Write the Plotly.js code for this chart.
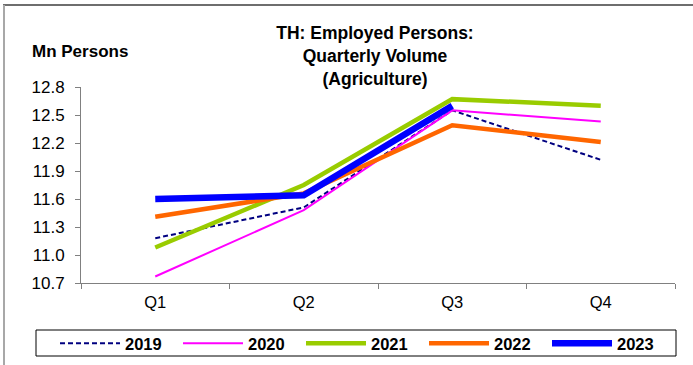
<!DOCTYPE html>
<html>
<head>
<meta charset="utf-8">
<script src="https://cdn.plot.ly/plotly-3.0.1.min.js"></script>
<style>
  html, body { margin: 0; padding: 0; background: #fff; }
  #wrap { position: relative; width: 693px; height: 365px; overflow: hidden; }
  #chart { width: 693px; height: 365px; }
  .bt { position: absolute; left: 3px; top: 4px; width: 690px; height: 2px; background: #6e6e6e; }
  .bl { position: absolute; left: 3px; top: 5px; width: 2px; height: 360px; background: #a8a8a8; }
</style>
</head>
<body>
<div id="wrap">
  <div id="chart"></div>
  <div class="bt"></div>
  <div class="bl"></div>
</div>
<script>
const quarters = ["Q1", "Q2", "Q3", "Q4"];
const v2019 = [11.18, 11.51, 12.55, 12.02];
const v2020 = [10.77, 11.48, 12.55, 12.43];
const v2021 = [11.08, 11.75, 12.67, 12.60];
const v2022 = [11.41, 11.66, 12.39, 12.21];
const v2023 = [11.60, 11.64, 12.60];
const yTicks = [10.7, 11.0, 11.3, 11.6, 11.9, 12.2, 12.5, 12.8];

const FONT = '"Liberation Sans", Arial, sans-serif';

const traces = [
  { name: "2019", x: quarters, y: v2019, mode: "lines", line: { color: "#000080", width: 2, dash: "5px,3px" } },
  { name: "2020", x: quarters, y: v2020, mode: "lines", line: { color: "#FF00FF", width: 2 } },
  { name: "2021", x: quarters, y: v2021, mode: "lines", line: { color: "#99CC00", width: 4.5 } },
  { name: "2022", x: quarters, y: v2022, mode: "lines", line: { color: "#FF6600", width: 4.5 } },
  { name: "2023", x: quarters.slice(0, v2023.length), y: v2023, mode: "lines", line: { color: "#0000FF", width: 6.5 } }
];

const L = 81, R = 675, T = 87, B = 283;
const pw = R - L, ph = B - T;
const px = (x) => (x - L) / pw;
const py = (y) => (B - y) / ph;

const layout = {
  width: 693, height: 365,
  margin: { l: L, r: 693 - R, t: T, b: 365 - B, pad: 0, autoexpand: false },
  paper_bgcolor: "#ffffff",
  plot_bgcolor: "#ffffff",
  font: { family: FONT, color: "#000000", size: 16 },
  showlegend: true,
  title: {
    text: "<b>TH: Employed Persons:<br>Quarterly Volume<br>(Agriculture)</b>",
    font: { family: FONT, size: 17.5, color: "#000000" },
    xref: "container", x: 375 / 693, xanchor: "center",
    yref: "container", y: 1 - 39 / 365, yanchor: "top"
  },
  xaxis: {
    type: "category",
    range: [-0.5, 3.5],
    showgrid: false, zeroline: false,
    showline: true, linecolor: "#808080", linewidth: 1,
    ticks: "outside", ticklen: 5, tickcolor: "#808080", tickson: "boundaries",
    tickfont: { family: FONT, size: 16.5, color: "#000000" },
    ticklabelstandoff: 4,
    fixedrange: true
  },
  yaxis: {
    range: [10.7, 12.8],
    tickmode: "array", tickvals: yTicks, ticktext: yTicks.map(v => v.toFixed(1)),
    showgrid: false, zeroline: false,
    showline: true, linecolor: "#808080", linewidth: 1,
    ticks: "outside", ticklen: 5, tickcolor: "#808080",
    tickfont: { family: FONT, size: 17, color: "#000000" },
    ticklabelstandoff: 7,
    fixedrange: true
  },
  legend: {
    orientation: "h",
    xref: "paper", yref: "paper",
    x: px(55), xanchor: "left",
    y: py(326), yanchor: "top",
    borderwidth: 0,
    bgcolor: "rgba(0,0,0,0)",
    font: { family: FONT, size: 16.5, color: "#000000", weight: "bold" },
    itemwidth: 60,
    entrywidth: 48, entrywidthmode: "pixels",
    traceorder: "normal"
  },
  shapes: [
    {
      type: "rect", xref: "paper", yref: "paper",
      x0: px(36), x1: px(676), y0: py(330), y1: py(356),
      line: { color: "#000000", width: 1 }, fillcolor: "rgba(0,0,0,0)",
      layer: "below"
    }
  ],
  annotations: [
    {
      text: "<b>Mn Persons</b>",
      xref: "paper", yref: "paper",
      x: px(30), xanchor: "left",
      y: py(51), yanchor: "middle",
      showarrow: false,
      font: { family: FONT, size: 17, color: "#000000" }
    }
  ]
};

Plotly.newPlot("chart", traces, layout, { displayModeBar: false, staticPlot: true });
</script>
</body>
</html>
